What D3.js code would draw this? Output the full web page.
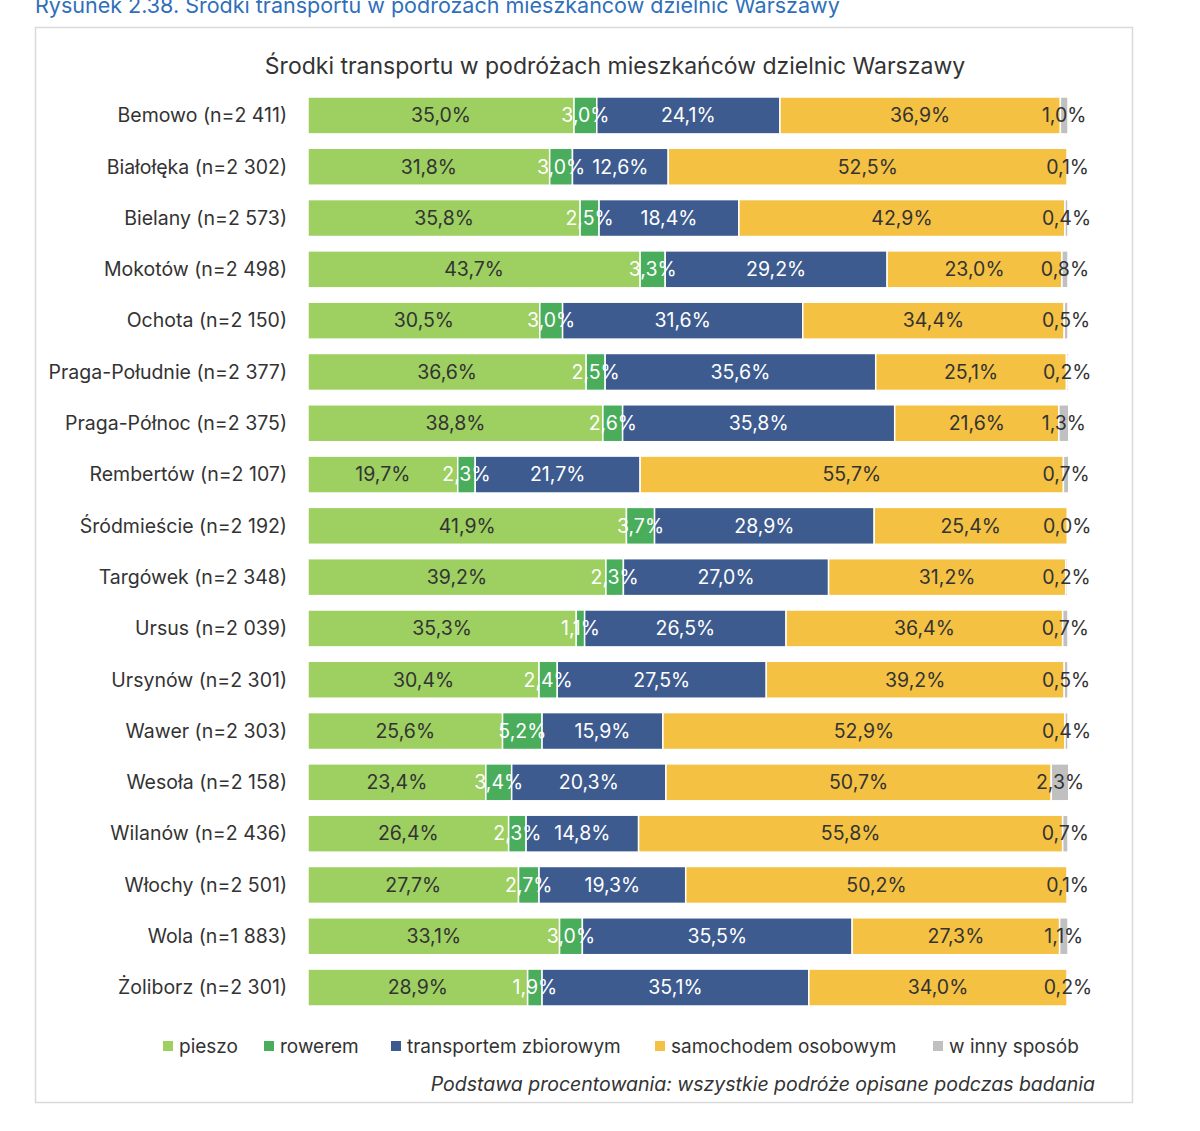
<!DOCTYPE html>
<html>
<head>
<meta charset="utf-8">
<script src="https://cdn.jsdelivr.net/npm/d3@7"></script>
<style>
  body { margin: 0; background: #fff; font-family: Inter, "Noto Sans", sans-serif; }
</style>
</head>
<body>
<div id="chart"></div>
<script>
// districts (category axis)
const districts = ["Bemowo (n=2 411)", "Białołęka (n=2 302)", "Bielany (n=2 573)", "Mokotów (n=2 498)",
    "Ochota (n=2 150)", "Praga-Południe (n=2 377)", "Praga-Północ (n=2 375)", "Rembertów (n=2 107)",
    "Śródmieście (n=2 192)", "Targówek (n=2 348)", "Ursus (n=2 039)", "Ursynów (n=2 301)",
    "Wawer (n=2 303)", "Wesoła (n=2 158)", "Wilanów (n=2 436)", "Włochy (n=2 501)",
    "Wola (n=1 883)", "Żoliborz (n=2 301)"];

// share of trips (%) per mode
const pieszo      = [35.0, 31.8, 35.8, 43.7, 30.5, 36.6, 38.8, 19.7, 41.9, 39.2, 35.3, 30.4, 25.6, 23.4, 26.4, 27.7, 33.1, 28.9];
const rowerem     = [3.0, 3.0, 2.5, 3.3, 3.0, 2.5, 2.6, 2.3, 3.7, 2.3, 1.1, 2.4, 5.2, 3.4, 2.3, 2.7, 3.0, 1.9];
const zbiorowy    = [24.1, 12.6, 18.4, 29.2, 31.6, 35.6, 35.8, 21.7, 28.9, 27.0, 26.5, 27.5, 15.9, 20.3, 14.8, 19.3, 35.5, 35.1];
const samochodem  = [36.9, 52.5, 42.9, 23.0, 34.4, 25.1, 21.6, 55.7, 25.4, 31.2, 36.4, 39.2, 52.9, 50.7, 55.8, 50.2, 27.3, 34.0];
const inny        = [1.0, 0.1, 0.4, 0.8, 0.5, 0.2, 1.3, 0.7, 0.0, 0.2, 0.7, 0.5, 0.4, 2.3, 0.7, 0.1, 1.1, 0.2];

const modes = ["pieszo", "rowerem", "transportem zbiorowym", "samochodem osobowym", "w inny sposób"];
const modeValues = [pieszo, rowerem, zbiorowy, samochodem, inny];

const colors = ["#9dcf61", "#4aad5b", "#3d5b8f", "#f4c142", "#c0c0c0"];
const labelColors = ["#333", "#fff", "#fff", "#333", "#333"];

const W = 1200, H = 1131;
const svg = d3.select("#chart").append("svg")
    .attr("width", W)
    .attr("height", H);

// figure caption above the frame (cut off at top in original)
svg.append("text")
    .attr("x", 35)
    .attr("y", 13)
    .attr("fill", "#2f6fbb")
    .style("font-size", "21.5px")
    .text("Rysunek 2.38. Środki transportu w podróżach mieszkańców dzielnic Warszawy");

// frame
svg.append("rect")
    .attr("x", 35.5)
    .attr("y", 27.5)
    .attr("width", 1097)
    .attr("height", 1075)
    .attr("fill", "#fff")
    .attr("stroke", "#d9d9d9")
    .attr("stroke-width", 1.5);

svg.append("text")
    .attr("x", 615)
    .attr("y", 74)
    .attr("text-anchor", "middle")
    .attr("fill", "#333")
    .style("font-size", "23px")
    .text("Środki transportu w podróżach mieszkańców dzielnic Warszawy");

// build rows and stack
const rows = districts.map((d, i) => {
    const row = { district: d };
    modes.forEach((m, k) => { row[m] = modeValues[k][i]; });
    return row;
});
const layers = d3.stack().keys(modes)(rows);

const x = d3.scaleLinear().domain([0, 100]).range([308, 1068]);
const y = d3.scaleBand()
    .domain(districts)
    .range([89.8, 1013.2])
    .paddingInner(0.28)
    .paddingOuter(0.14);

// category labels
svg.append("g")
    .selectAll("text")
    .data(districts)
    .enter()
    .append("text")
    .attr("x", 287)
    .attr("y", d => y(d) + y.bandwidth() / 2)
    .attr("dy", "0.35em")
    .attr("text-anchor", "end")
    .attr("fill", "#333")
    .style("font-size", "19.5px")
    .text(d => d);

// segments
const layer = svg.selectAll(".layer")
    .data(layers)
    .enter()
    .append("g")
    .attr("class", "layer")
    .attr("fill", (d, i) => colors[i]);

layer.selectAll("rect")
    .data(d => d)
    .enter()
    .append("rect")
    .attr("x", d => x(d[0]))
    .attr("y", d => y(d.data.district))
    .attr("width", d => Math.max(0, x(d[1]) - x(d[0])))
    .attr("height", y.bandwidth())
    .attr("stroke", "#fff")
    .attr("stroke-width", 1.5);

// value labels (drawn after all bars so they sit on top)
const fmt = v => v.toFixed(1).replace(".", ",") + "%";
layers.forEach((l, k) => {
    svg.append("g")
        .selectAll("text")
        .data(l)
        .enter()
        .append("text")
        .attr("x", d => x((d[0] + d[1]) / 2))
        .attr("y", d => y(d.data.district) + y.bandwidth() / 2)
        .attr("dy", "0.35em")
        .attr("text-anchor", "middle")
        .attr("fill", labelColors[k])
        .style("font-size", "19.5px")
        .text(d => fmt(d[1] - d[0]));
});

// legend
const legendX = [163, 264, 391, 655, 933];
const legend = svg.append("g").selectAll("g")
    .data(modes)
    .enter()
    .append("g")
    .attr("transform", (d, i) => `translate(${legendX[i]},1046)`);

legend.append("rect")
    .attr("x", 0)
    .attr("y", -5)
    .attr("width", 10)
    .attr("height", 10)
    .attr("fill", (d, i) => colors[i]);

legend.append("text")
    .attr("x", 16)
    .attr("dy", "0.35em")
    .attr("fill", "#333")
    .style("font-size", "19px")
    .text(d => d);

svg.append("text")
    .attr("x", 1095)
    .attr("y", 1091)
    .attr("text-anchor", "end")
    .attr("fill", "#333")
    .style("font-size", "19.5px")
    .style("font-style", "italic")
    .text("Podstawa procentowania: wszystkie podróże opisane podczas badania");
</script>
</body>
</html>
